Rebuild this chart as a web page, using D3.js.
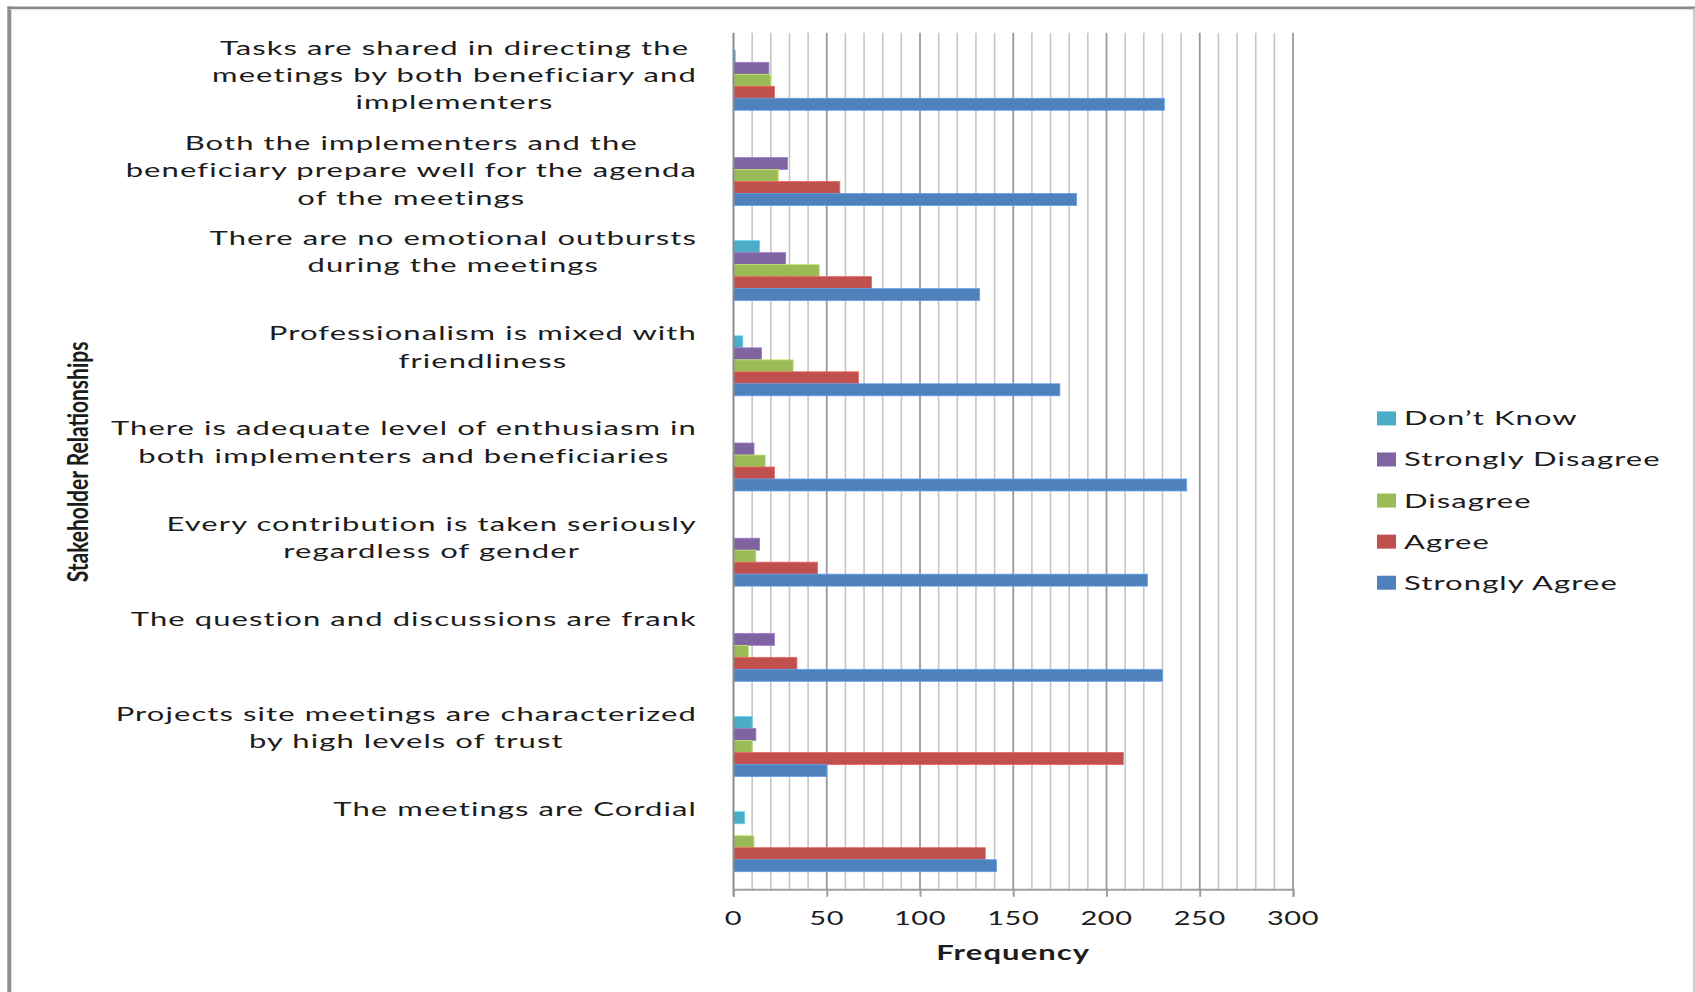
<!DOCTYPE html>
<html>
<head>
<meta charset="utf-8">
<script src="https://cdn.jsdelivr.net/npm/d3@7"></script>
<style>
  html, body { margin: 0; padding: 0; background: #ffffff; }
  svg { display: block; }
  text { font-family: Lato, "Open Sans", sans-serif; fill: #1c1c1c; }
</style>
</head>
<body>
<svg id="chart" width="1695" height="992"></svg>
<script>
// Statements, listed top to bottom as drawn; each entry holds its wrapped lines
const categories = [
  ["Tasks are shared in directing the", "meetings by both beneficiary and", "implementers"],
  ["Both the implementers and the", "beneficiary prepare well for the agenda", "of the meetings"],
  ["There are no emotional outbursts", "during the meetings"],
  ["Professionalism is mixed with", "friendliness"],
  ["There is adequate level of enthusiasm in", "both implementers and beneficiaries"],
  ["Every contribution is taken seriously", "regardless of gender"],
  ["The question and discussions are frank"],
  ["Projects site meetings are characterized", "by high levels of trust"],
  ["The meetings are Cordial"]
];

// Response series (top-to-bottom order inside each group and in the legend)
const seriesNames = ["Don\u2019t Know", "Strongly Disagree", "Disagree", "Agree", "Strongly Agree"];

// Frequencies per statement, same order as categories
const dontKnow         = [1, 0, 14, 5, 0, 0, 0, 10, 6];
const stronglyDisagree = [19, 29, 28, 15, 11, 14, 22, 12, 0];
const disagree         = [20, 24, 46, 32, 17, 12, 8, 10, 11];
const agree            = [22, 57, 74, 67, 22, 45, 34, 209, 135];
const stronglyAgree    = [231, 184, 132, 175, 243, 222, 230, 50, 141];

const xTicks = [0, 50, 100, 150, 200, 250, 300];
const xMinorStep = 10;

const seriesValues = [dontKnow, stronglyDisagree, disagree, agree, stronglyAgree];
const seriesColors = ["#4BACC6", "#8064A2", "#9BBB59", "#C0504D", "#4F81BD"];

const svg = d3.select("#chart");
const W = 1695, H = 992;
const SX = 1.55;          // horizontal stretch applied to the lettering
const SX_TICK = 1.45;
const LS = "0.7px";       // extra letter spacing
const FONT = 20;

const plot = { left: 733.5, right: 1293, top: 32.7, bottom: 889.3 };

const x = d3.scaleLinear().domain([0, 300]).range([plot.left, plot.right]);
const keys = d3.range(categories.length);
const y0 = d3.scaleBand().domain(keys).range([plot.top, plot.bottom]).padding(0);
const y1 = d3.scaleBand().domain(seriesNames).range([0, y0.bandwidth()])
  .paddingInner(0).paddingOuter(1.47);
const color = d3.scaleOrdinal().domain(seriesNames).range(seriesColors);

// Outer chart frame
svg.append("line").attr("x1", 9.3).attr("x2", 9.3).attr("y1", 6.5).attr("y2", H)
  .attr("stroke", "#8f8f8f").attr("stroke-width", 4);
svg.append("line").attr("x1", 7.5).attr("x2", W).attr("y1", 7.8).attr("y2", 7.8)
  .attr("stroke", "#8a8a8a").attr("stroke-width", 2.5);
svg.append("line").attr("x1", 10).attr("x2", W).attr("y1", 9.8).attr("y2", 9.8)
  .attr("stroke", "#dcdcdc").attr("stroke-width", 1);
svg.append("line").attr("x1", 1694).attr("x2", 1694).attr("y1", 8).attr("y2", H)
  .attr("stroke", "#bdbdbd").attr("stroke-width", 1.5);

// Gridlines: minor every 10, major every 50
const minorVals = d3.range(xMinorStep, 300 + 0.1, xMinorStep).filter(v => v % 50 !== 0);
svg.append("g").selectAll("line").data(minorVals).join("line")
  .attr("x1", d => x(d)).attr("x2", d => x(d))
  .attr("y1", plot.top).attr("y2", plot.bottom)
  .attr("stroke", "#c6c6c6").attr("stroke-width", 1.6);
svg.append("g").selectAll("line").data(xTicks.filter(v => v > 0)).join("line")
  .attr("x1", d => x(d)).attr("x2", d => x(d))
  .attr("y1", plot.top).attr("y2", plot.bottom)
  .attr("stroke", "#999999").attr("stroke-width", 1.8);

// Bars
const groups = svg.append("g").selectAll("g").data(keys).join("g")
  .attr("transform", d => `translate(0,${y0(d)})`);
groups.selectAll("rect")
  .data(i => seriesNames.map((s, k) => ({ s, v: seriesValues[k][i] })).filter(d => d.v > 0))
  .join("rect")
  .attr("x", x(0))
  .attr("y", d => y1(d.s))
  .attr("width", d => x(d.v) - x(0))
  .attr("height", y1.bandwidth())
  .attr("fill", d => color(d.s))
  .attr("stroke", d => d3.color(color(d.s)).brighter(0.6))
  .attr("stroke-width", 0.8);

// Category axis line (at zero) and value axis
svg.append("line").attr("x1", x(0)).attr("x2", x(0))
  .attr("y1", plot.top).attr("y2", plot.bottom + 7)
  .attr("stroke", "#8c8c8c").attr("stroke-width", 2);

const xAxis = d3.axisBottom(x).tickValues(xTicks).tickSize(7.5).tickFormat("");
const axisG = svg.append("g").attr("transform", `translate(0,${plot.bottom})`).call(xAxis);
axisG.select(".domain").attr("stroke", "#a0a0a0").attr("stroke-width", 2);
axisG.selectAll(".tick line").attr("stroke", "#a0a0a0").attr("stroke-width", 2);

// Tick labels
svg.append("g").selectAll("g").data(xTicks).join("g")
  .attr("transform", d => `translate(${x(d)},918) scale(${SX_TICK},1)`)
  .append("text")
  .attr("text-anchor", "middle").attr("dy", "0.35em")
  .style("font-size", FONT + "px").style("letter-spacing", "0.4px")
  .text(d => d);

// Axis titles
svg.append("g").attr("transform", `translate(${(plot.left + plot.right) / 2},953) scale(${SX},1)`)
  .append("text").attr("text-anchor", "middle").attr("dy", "0.35em")
  .style("font-size", FONT + "px").style("font-weight", "bold").style("letter-spacing", LS)
  .text("Frequency");

svg.append("g").attr("transform", `translate(78,462) scale(1.4,1) rotate(-90)`)
  .append("text").attr("text-anchor", "middle").attr("dy", "0.35em")
  .style("font-size", "21px").style("font-weight", "bold")
  .text("Stakeholder Relationships");

// Category labels: lines centred on one another, widest line ending near the axis
const labelRight = 697;
const lineGap = 27.4;
keys.forEach(i => {
  const g = svg.append("g");
  const t = g.append("text").attr("text-anchor", "middle")
    .style("font-size", FONT + "px").style("letter-spacing", LS);
  categories[i].forEach((line, j) => {
    t.append("tspan").attr("x", 0).attr("y", j * lineGap).attr("dy", "0.35em").text(line);
  });
  const widest = d3.max(t.selectAll("tspan").nodes(), n => n.getComputedTextLength()) * SX;
  const cx = labelRight - widest / 2;
  g.attr("transform", `translate(${cx},${y0(i) + 15}) scale(${SX},1)`);
});

// Legend
const legend = svg.append("g").selectAll("g").data(seriesNames).join("g")
  .attr("transform", (d, k) => `translate(1377,${418.4 + k * 41.08})`);
legend.append("rect").attr("x", 0).attr("y", -7).attr("width", 19).attr("height", 14)
  .attr("fill", d => color(d));
legend.append("g").attr("transform", `translate(27,0) scale(${SX},1)`)
  .append("text").attr("dy", "0.35em").style("font-size", FONT + "px").style("letter-spacing", LS)
  .text(d => d);
</script>
</body>
</html>
